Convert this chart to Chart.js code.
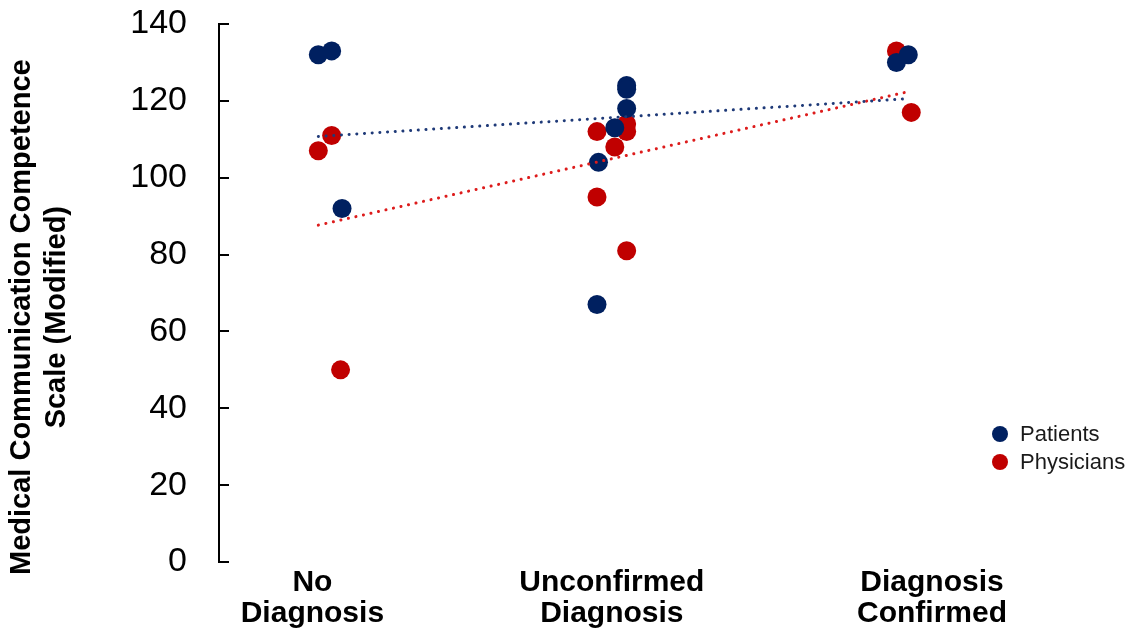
<!DOCTYPE html>
<html>
<head>
<meta charset="utf-8">
<script src="https://cdn.jsdelivr.net/npm/chart.js@4.4.1/dist/chart.umd.min.js"></script>
<style>
  html, body { margin: 0; padding: 0; background: #fff; }
  #wrap { width: 1136px; height: 634px; }
</style>
</head>
<body>
<div id="wrap"><canvas id="mccChart" width="1136" height="634"></canvas></div>
<script>
// groups on the x axis (1 = No Diagnosis, 2 = Unconfirmed, 3 = Confirmed), points are jittered a bit
const categories = [['No', 'Diagnosis'], ['Unconfirmed', 'Diagnosis'], ['Diagnosis', 'Confirmed']];
const categoryTickPos = [0.98, 1.99, 3.07];
const yTicks = [0, 20, 40, 60, 80, 100, 120, 140];

const patientsX = [1.00, 1.045, 1.08, 2.04, 2.04, 2.04, 2.00, 1.945, 1.94, 2.95, 2.99];
const patientsY = [132, 133, 92, 124, 123, 118, 113, 104, 67, 130, 132];

const physiciansX = [1.045, 1.00, 1.075, 1.94, 2.04, 2.04, 2.00, 1.94, 2.04, 2.95, 3.00];
const physiciansY = [111, 107, 50, 112, 114, 112, 108, 95, 81, 133, 117];

const navy = '#002060';
const red = '#C00000';

// least squares line over the series' own x range (like an Excel linear trendline)
function trendLine(xs, ys) {
  const n = xs.length;
  const mx = xs.reduce((a, b) => a + b, 0) / n;
  const my = ys.reduce((a, b) => a + b, 0) / n;
  let sxy = 0, sxx = 0;
  for (let i = 0; i < n; i++) {
    sxy += (xs[i] - mx) * (ys[i] - my);
    sxx += (xs[i] - mx) * (xs[i] - mx);
  }
  const slope = sxy / sxx;
  const icpt = my - slope * mx;
  const x0 = Math.min(...xs), x1 = Math.max(...xs);
  return [{x: x0, y: icpt + slope * x0}, {x: x1, y: icpt + slope * x1}];
}

const toPoints = (xs, ys) => xs.map((x, i) => ({x: x, y: ys[i]}));

const inwardTicks = {
  id: 'inwardTicks',
  afterDraw(chart) {
    const y = chart.scales.y;
    const ctx = chart.ctx;
    ctx.save();
    ctx.strokeStyle = '#000';
    ctx.lineWidth = 2;
    y.ticks.forEach(t => {
      const py = Math.round(y.getPixelForValue(t.value));
      ctx.beginPath();
      ctx.moveTo(y.right - 1, py);
      ctx.lineTo(y.right + 10, py);
      ctx.stroke();
    });
    ctx.restore();
  }
};

const sideLegend = {
  id: 'sideLegend',
  afterDraw(chart) {
    const ctx = chart.ctx;
    const items = chart.data.datasets.filter(d => d.inLegend);
    ctx.save();
    ctx.font = "22px 'Liberation Sans', Arial, sans-serif";
    ctx.textBaseline = 'middle';
    items.forEach((d, i) => {
      const cy = 434 + i * 28;
      ctx.fillStyle = d.backgroundColor;
      ctx.beginPath();
      ctx.arc(1000, cy, 8, 0, Math.PI * 2);
      ctx.fill();
      ctx.fillStyle = '#1a1a1a';
      ctx.fillText(d.label, 1020, cy + 1);
    });
    ctx.restore();
  }
};

const config = {
  type: 'scatter',
  data: {
    datasets: [
      {
        type: 'line',
        label: 'Patients trend',
        data: trendLine(patientsX, patientsY),
        borderColor: '#1F3A78',
        borderWidth: 3,
        borderDash: [0.1, 7.6],
        borderCapStyle: 'round',
        pointRadius: 0,
        fill: false,
        order: 0
      },
      {
        type: 'line',
        label: 'Physicians trend',
        data: trendLine(physiciansX, physiciansY),
        borderColor: '#DD1C1C',
        borderWidth: 3,
        borderDash: [0.1, 7.6],
        borderCapStyle: 'round',
        pointRadius: 0,
        fill: false,
        order: 0
      },
      {
        label: 'Patients',
        inLegend: true,
        data: toPoints(patientsX, patientsY),
        backgroundColor: navy,
        borderWidth: 0,
        pointRadius: 9.5,
        order: 1
      },
      {
        label: 'Physicians',
        inLegend: true,
        data: toPoints(physiciansX, physiciansY),
        backgroundColor: red,
        borderWidth: 0,
        pointRadius: 9.5,
        order: 2
      }
    ]
  },
  options: {
    responsive: false,
    animation: false,
    events: [],
    layout: { padding: { top: 24, right: 0, bottom: 0, left: 0 } },
    plugins: {
      legend: { display: false },
      tooltip: { enabled: false }
    },
    scales: {
      x: {
        type: 'linear',
        min: 0.665,
        max: 3.726,
        grid: { display: false },
        border: { display: false },
        afterBuildTicks: s => { s.ticks = categoryTickPos.map(v => ({value: v})); },
        afterFit: s => { s.height = 72; },
        ticks: {
          autoSkip: false,
          maxRotation: 0,
          padding: -3,
          color: '#000',
          font: { family: "'Liberation Sans Narrow', 'Liberation Sans', Arial, sans-serif", size: 30, weight: 'bold', lineHeight: 1.03 },
          callback: (v, i) => categories[i]
        }
      },
      y: {
        min: 0,
        max: 140,
        afterBuildTicks: s => { s.ticks = yTicks.map(v => ({value: v})); },
        afterFit: s => { s.width = 219; },
        // the visible ticks point inward (drawn by the plugin); this invisible one just spaces the labels
        grid: { drawOnChartArea: false, drawTicks: true, tickLength: 28, tickColor: 'rgba(0,0,0,0)' },
        border: { color: '#000', width: 2 },
        ticks: {
          padding: 4,
          color: '#000',
          font: { family: "'Liberation Sans', Arial, sans-serif", size: 34, lineHeight: 1.0 }
        },
        title: {
          display: true,
          // trailing spaces nudge the centred title a little lower, as in the original
          text: ['Medical Communication Competence      ', 'Scale (Modified)      '],
          color: '#000',
          padding: { top: 4.6, bottom: 0 },
          font: { family: "'Liberation Sans', Arial, sans-serif", size: 29, weight: 'bold', lineHeight: 1.2 }
        }
      }
    }
  },
  plugins: [inwardTicks, sideLegend]
};

const mccCanvas = document.getElementById('mccChart');
var mccChart = new Chart(mccCanvas, config);
</script>
</body>
</html>
